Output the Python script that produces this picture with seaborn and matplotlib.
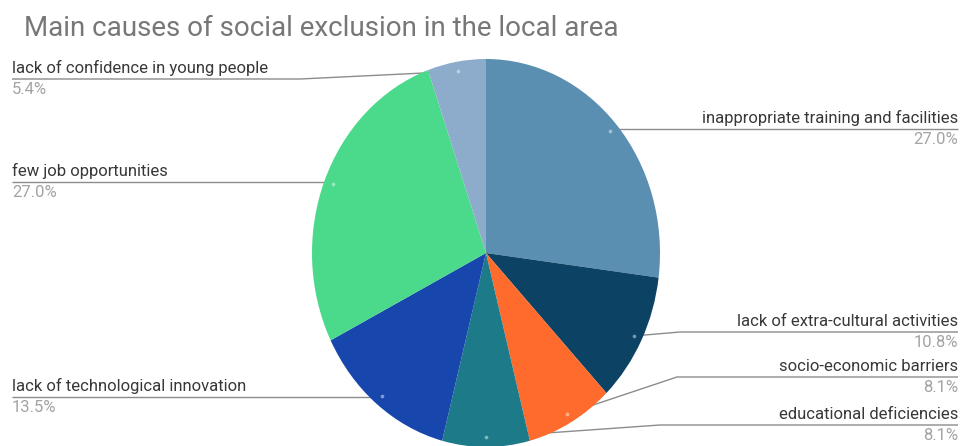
import numpy as np
import matplotlib
matplotlib.use("Agg")
import matplotlib.pyplot as plt
import seaborn as sns

# Survey answers: main causes of social exclusion (share of responses, %)
causes = [
    "inappropriate training and facilities",
    "lack of extra-cultural activities",
    "socio-economic barriers",
    "educational deficiencies",
    "lack of technological innovation",
    "few job opportunities",
    "lack of confidence in young people",
]
shares = [27.0, 10.8, 8.1, 8.1, 13.5, 27.0, 5.4]
title = "Main causes of social exclusion in the local area"

colors = ["#5a8fb2", "#0c4264", "#ff6b2d", "#1d7a88", "#1747ad", "#4bd98b", "#8daccb"]

# label placement: side, y of the leader's horizontal run (px), elbow x (px)
label_layout = [
    ("right", 129, None),
    ("right", 332, 680),
    ("right", 377, 677),
    ("right", 425, 660),
    ("left", 397, None),
    ("left", 182, None),
    ("left", 79, 300),
]

sns.set_theme(style="white")
plt.rcParams["font.family"] = ["Roboto", "DejaVu Sans"]

W, H = 961, 446
fig = plt.figure(figsize=(W / 100, H / 100), dpi=100)
fig.patch.set_facecolor("white")

# overlay in pixel coordinates for title, labels and leader lines
ov = fig.add_axes([0, 0, 1, 1], zorder=0)
ov.set_xlim(0, W)
ov.set_ylim(H, 0)
ov.axis("off")

CX, CY, RX, RY = 486, 253, 174, 194
pax = fig.add_axes([(CX - RX) / W, 1 - (CY + RY) / H, 2 * RX / W, 2 * RY / H], zorder=1)
wedges, _ = pax.pie(shares, colors=colors, startangle=90, counterclock=False,
                    radius=1, wedgeprops=dict(linewidth=0))
pax.set_aspect("auto")
pax.set_xlim(-1, 1)
pax.set_ylim(-1, 1)
pax.axis("off")
pax.patch.set_alpha(0)

ov.text(24, 36, title, fontsize=20, color="#777777", va="baseline", ha="left")

R_ANCHOR = 0.95
for w, name, val, (side, ly, ex) in zip(wedges, causes, shares, label_layout):
    mid = np.deg2rad((w.theta1 + w.theta2) / 2)
    ux, uy = R_ANCHOR * np.cos(mid), R_ANCHOR * np.sin(mid)
    axp, ayp = CX + RX * ux, CY - RY * uy
    elbow = axp if ex is None else ex
    end = 958 if side == "right" else 12
    ov.plot([axp, elbow, end], [ayp, ly, ly], color="#8c8c8c", lw=1.0,
            solid_capstyle="butt")
    ha = "right" if side == "right" else "left"
    ov.text(end, ly - 3, name, fontsize=12, color="#383838", ha=ha, va="bottom")
    ov.text(end, ly + 3, f"{val:.1f}%", fontsize=12, color="#a3a3a3", ha=ha, va="top")
    pax.scatter([ux], [uy], s=7, color="white", alpha=0.45, linewidths=0, zorder=5)

fig.savefig("out.png", dpi=100, facecolor="white")
